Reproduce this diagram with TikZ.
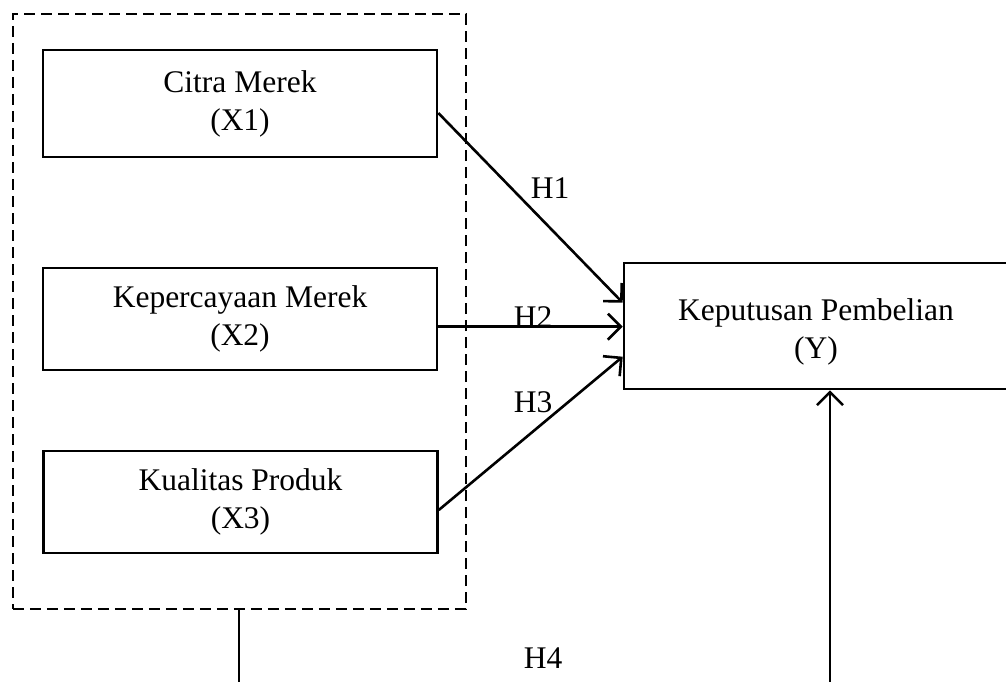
\documentclass[tikz,border=0pt]{standalone}
\usepackage{fontspec}
\setmainfont{Liberation Serif}
\usetikzlibrary{arrows.meta}
\begin{document}
\begin{tikzpicture}[x=1pt,y=-1pt,
  box/.style={draw,line width=2.6pt,rectangle,inner sep=0pt,align=center,
    font=\fontsize{31.5}{38}\selectfont},
  grpbox/.style={draw,line width=2.4pt,dash pattern=on 11pt off 6pt,rectangle,inner sep=0pt},
  arr/.style={line width=2.6pt,-{Straight Barb[length=13pt,width=26pt,line width=2.6pt]}},
  conn/.style={line width=2.6pt},
  lbl/.style={inner sep=0pt,font=\fontsize{31.5}{38}\selectfont}]
\useasboundingbox (0,0) rectangle (1006,682);
\node[grpbox,minimum width=453pt,minimum height=595pt] (grp) at (239.3,311.5) {};
\node[box,minimum width=394pt,minimum height=107pt] (x1) at (240,103.5) {Citra Merek\\(X1)};
\node[box,minimum width=394pt,minimum height=102pt] (x2) at (240,319) {Kepercayaan Merek\\(X2)};
\node[box,minimum width=394pt,minimum height=102pt] (x3) at (240.5,502) {Kualitas Produk\\(X3)};
\node[box,minimum width=384pt,minimum height=126pt] (y) at (816,326) {\rule{0pt}{34pt}Keputusan Pembelian\\(Y)};
\node[lbl] (h1) at (550,188.5) {H1};
\node[lbl] (h2) at (533,317) {H2};
\node[lbl] (h3) at (533,402) {H3};
\node[lbl] (h4) at (543,658.5) {H4};
\draw[arr] ([yshift=-9.5pt]x1.east) -- ([yshift=23.3pt]y.west);
\coordinate (s2) at ([yshift=-7.7pt]x2.east);
\draw[arr] (s2) -- (s2 -| y.west);
\draw[arr] ([yshift=-8pt]x3.east) -- ([yshift=-30.7pt]y.west);
\coordinate (b1) at (239,684);
\coordinate (b2) at (830,684);
\draw[conn] (grp.south -| b1) -- (b1);
\draw[arr] (b2) -- (b2 |- y.south);
\end{tikzpicture}
\end{document}
